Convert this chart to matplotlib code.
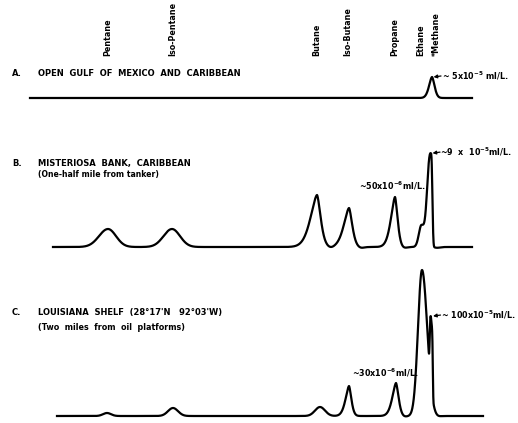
import numpy as np
import matplotlib
matplotlib.use("Agg")
import matplotlib.pyplot as plt

W, H = 518, 423

# Compound names written above the chromatograms and their retention positions
compounds = ["Pentane", "Iso-Pentane", "Butane", "Iso-Butane", "Propane", "Ethane", "*Methane"]
compound_pos = [108, 173, 317, 348, 395, 421, 436]

# Sample titles
sample_letters = ["A.", "B.", "C."]
sample_titles = ["OPEN  GULF  OF  MEXICO  AND  CARIBBEAN",
                 "MISTERIOSA  BANK,  CARIBBEAN",
                 "LOUISIANA  SHELF  (28°17'N   92°03'W)"]
sample_notes = ["", "(One-half mile from tanker)", "(Two  miles  from  oil  platforms)"]
note_size = [None, 5.6, 5.8]

# Baseline level of each trace (figure units from top) and its start/end positions
baseline = [98, 247, 416]
x_start = [30, 53, 57]
x_end = [472, 472, 483]

# Peak tables: retention position, height, left width, right width, shape exponent
a_pos = [432]
a_height = [21]
a_wl = [2.8]
a_wr = [2.4]
a_exp = [1.7]

b_pos = [108, 172, 317, 349, 395, 421.5, 431]
b_height = [18, 18, 52, 39, 50, 22, 92]
b_wl = [9.0, 8.5, 6.0, 4.8, 3.8, 2.6, 3.6]
b_wr = [8.0, 8.0, 3.4, 3.0, 2.4, 4.2, 1.3]
b_exp = [2.0, 2.0, 1.6, 1.6, 1.6, 2.0, 2.6]

c_pos = [107, 173, 320, 349, 396, 422, 431.5]
c_height = [3, 8, 9, 30, 33, 146, 66]
c_wl = [4.0, 5.0, 5.0, 3.2, 3.4, 4.0, 1.6]
c_wr = [4.0, 5.0, 5.0, 2.2, 2.4, 5.2, 1.2]
c_exp = [2.0, 2.0, 2.0, 1.6, 1.6, 2.0, 4.0]

# Small negative baseline excursions after the sharper peaks
b_dip_pos = [331, 361, 404, 437]
b_dip_depth = [1.0, 1.0, 1.0, 0.8]
c_dip_pos = [404, 437]
c_dip_depth = [0.8, 0.8]

# Concentration annotations: (trace index, peak index, text, arrow)
notes = [
    (0, 0, r"~ 5x10$^{-5}$ ml/L.", True),
    (1, 6, r"~9  x  10$^{-5}$ml/L.", True),
    (1, 4, r"~50x10$^{-6}$ml/L.", False),
    (2, 6, r"~ 100x10$^{-5}$ml/L.", True),
    (2, 4, r"~30x10$^{-6}$ml/L.", False),
]
# horizontal / vertical offsets of the un-arrowed notes from their peak top
note_offset = {(1, 4): (-3, 11), (2, 4): (-11, 10)}

traces = [
    (a_pos, a_height, a_wl, a_wr, a_exp, [], []),
    (b_pos, b_height, b_wl, b_wr, b_exp, b_dip_pos, b_dip_depth),
    (c_pos, c_height, c_wl, c_wr, c_exp, c_dip_pos, c_dip_depth),
]


def response(x, pos, height, wl, wr, ex, dips, depths):
    x = np.asarray(x, dtype=float)
    y = np.zeros_like(x)
    for p, h, l, r, e in zip(pos, height, wl, wr, ex):
        d = x - p
        s = np.where(d < 0, l, r)
        y += h * np.exp(-0.5 * np.abs(d / s) ** e)
    for p, dd in zip(dips, depths):
        y -= dd * np.exp(-0.5 * ((x - p) / 3.0) ** 2)
    return y


plt.rcParams["mathtext.fontset"] = "dejavusans"
plt.rcParams["mathtext.default"] = "bf"

fig = plt.figure(figsize=(W / 100, H / 100), dpi=100)
ax = fig.add_axes([0, 0, 1, 1])
ax.set_xlim(0, W)
ax.set_ylim(0, H)
ax.axis("off")

font = dict(family="DejaVu Sans", color="black", fontweight="bold")

# Chromatogram traces
levels = []
for i, tr in enumerate(traces):
    x = np.linspace(x_start[i], x_end[i], 3000)
    y0 = H - baseline[i]
    levels.append(y0)
    ax.plot(x, y0 + response(x, *tr), color="black", lw=1.6, solid_joinstyle="round")

# Compound labels (vertical)
for name, xp in zip(compounds, compound_pos):
    ax.text(xp, H - 56, name, rotation=90, ha="center", va="bottom",
            fontsize=5.8, **font)

# Sample titles
title_y = [73, 163, 312]
note_y = [None, 174, 327]
for i in range(3):
    ax.text(12, H - title_y[i], sample_letters[i], ha="left", va="center",
            fontsize=6.0, **font)
    ax.text(38, H - title_y[i], sample_titles[i], ha="left", va="center",
            fontsize=6.0, **font)
    if sample_notes[i]:
        ax.text(38, H - note_y[i], sample_notes[i], ha="left", va="center",
                fontsize=note_size[i], **font)

# Concentration notes; the arrow points at the apex of the drawn trace
for ti, pi, txt, arrow in notes:
    pos = traces[ti][0][pi]
    xs = np.linspace(pos - 2, pos + 2, 81)
    top = levels[ti] + response(xs, *traces[ti]).max()
    if arrow:
        ax.annotate("", xy=(pos + 1.5, top), xytext=(pos + 9, top + 1),
                    arrowprops=dict(arrowstyle="-|>", color="black", lw=0.9,
                                    mutation_scale=5, shrinkA=0, shrinkB=0))
        ax.text(pos + 9.5, top + 1, txt, ha="left", va="center", fontsize=5.8, **font)
    else:
        dx, dy = note_offset[(ti, pi)]
        ax.text(pos + dx, top + dy, txt, ha="center", va="center", fontsize=5.8, **font)

fig.savefig("out.png", dpi=100, facecolor="white")
